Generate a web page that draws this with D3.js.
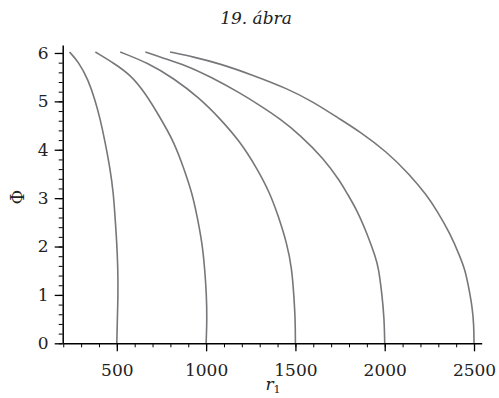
<!DOCTYPE html>
<html>
<head>
<meta charset="utf-8">
<script src="https://cdn.jsdelivr.net/npm/d3@7"></script>
<style>
  body { margin: 0; background: #fff; }
  text { font-family: "DejaVu Serif", "Liberation Serif", serif; fill: #222; }
</style>
</head>
<body>
<div id="chart"></div>
<script>
const width = 499;
const height = 398;

// [r1, Phi], one array per curve
const curve500 = [[235,6.02],[285,5.82],[341,5.44],[378,5.03],[406,4.65],[434,4.17],[462,3.62],[481,3.10],[490,2.62],[500,2.07],[506,1.55],[507,1.0],[503,0.52],[500,0]];
const curve1000 = [[380,6.02],[483,5.79],[576,5.55],[660,5.17],[745,4.65],[819,4.17],[875,3.62],[922,3.10],[950,2.62],[978,2.07],[992,1.55],[1002,1.0],[1005,0.52],[1000,0]];
const curve1500 = [[519,6.02],[677,5.79],[817,5.48],[966,5.06],[1076,4.65],[1190,4.17],[1284,3.62],[1358,3.10],[1405,2.62],[1452,2.07],[1480,1.55],[1491,1.0],[1499,0.52],[1500,0]];
const curve2000 = [[660,6.02],[763,5.89],[884,5.75],[1024,5.51],[1192,5.17],[1312,4.89],[1410,4.65],[1528,4.30],[1658,3.82],[1752,3.34],[1789,3.10],[1845,2.75],[1901,2.27],[1948,1.79],[1966,1.55],[1985,1.0],[1997,0.52],[2000,0]];
const curve2500 = [[798,6.02],[928,5.92],[1068,5.79],[1264,5.54],[1451,5.27],[1600,4.99],[1742,4.65],[1862,4.37],[2011,3.96],[2142,3.48],[2235,3.06],[2291,2.75],[2366,2.27],[2422,1.79],[2450,1.51],[2468,1.20],[2490,0.76],[2499,0.38],[2500,0]];
const curves = [curve500, curve1000, curve1500, curve2000, curve2500];

const xTicks = [500, 1000, 1500, 2000, 2500];
const yTicks = [0, 1, 2, 3, 4, 5, 6];

const x = d3.scaleLinear().domain([197, 2543]).range([62.7, 481.7]);
const y = d3.scaleLinear().domain([0, 6.165]).range([343.3, 45]);

const svg = d3.select("#chart").append("svg")
    .attr("width", width).attr("height", height);

// title
svg.append("text")
    .attr("x", 256).attr("y", 24)
    .attr("text-anchor", "middle")
    .style("font-style", "italic")
    .style("font-size", "17px")
    .text("19. ábra");

// curves
const line = d3.line()
    .x(d => x(d[0]))
    .y(d => y(d[1]))
    .curve(d3.curveBasis);

svg.selectAll(".curve")
    .data(curves)
    .join("path")
    .attr("class", "curve")
    .attr("fill", "none")
    .attr("stroke", "#77777b")
    .attr("stroke-width", 1.6)
    .attr("d", line);

// x axis
const xMinor = d3.range(200, 2501, 100);
svg.append("g")
    .attr("transform", `translate(0,${y(0)})`)
    .call(d3.axisBottom(x).tickValues(xMinor).tickSize(4).tickFormat(""))
    .call(g => g.select(".domain").remove());
svg.append("g")
    .attr("class", "x-axis")
    .attr("transform", `translate(0,${y(0)})`)
    .call(d3.axisBottom(x).tickValues(xTicks).tickSize(8).tickSizeOuter(0).tickPadding(13).tickFormat(d3.format("d")))
    .call(g => g.select(".domain").attr("stroke-width", 1.5))
    .call(g => g.selectAll("line").attr("stroke-width", 1.3))
    .call(g => g.selectAll("text").style("font-size", "17px").attr("font-family", null));

// y axis
const yMinor = d3.range(0, 6.01, 0.2);
svg.append("g")
    .attr("transform", `translate(${x(197)},0)`)
    .call(d3.axisLeft(y).tickValues(yMinor).tickSize(4).tickFormat(""))
    .call(g => g.select(".domain").remove());
svg.append("g")
    .attr("class", "y-axis")
    .attr("transform", `translate(${x(197)},0)`)
    .call(d3.axisLeft(y).tickValues(yTicks).tickSize(8).tickSizeOuter(0).tickPadding(6).tickFormat(d3.format("d")))
    .call(g => g.select(".domain").attr("stroke-width", 1.5))
    .call(g => g.selectAll("line").attr("stroke-width", 1.3))
    .call(g => g.selectAll("text").style("font-size", "17px").attr("font-family", null));

// axis titles
svg.append("text")
    .attr("transform", "translate(24,197) rotate(-90)")
    .attr("text-anchor", "middle")
    .style("font-size", "18px")
    .text("Φ");

const xt = svg.append("text")
    .attr("x", 273).attr("y", 390)
    .attr("text-anchor", "middle")
    .style("font-size", "17px");
xt.append("tspan").style("font-style", "italic").text("r");
xt.append("tspan").attr("dy", 3).style("font-size", "11px").text("1");
</script>
</body>
</html>
